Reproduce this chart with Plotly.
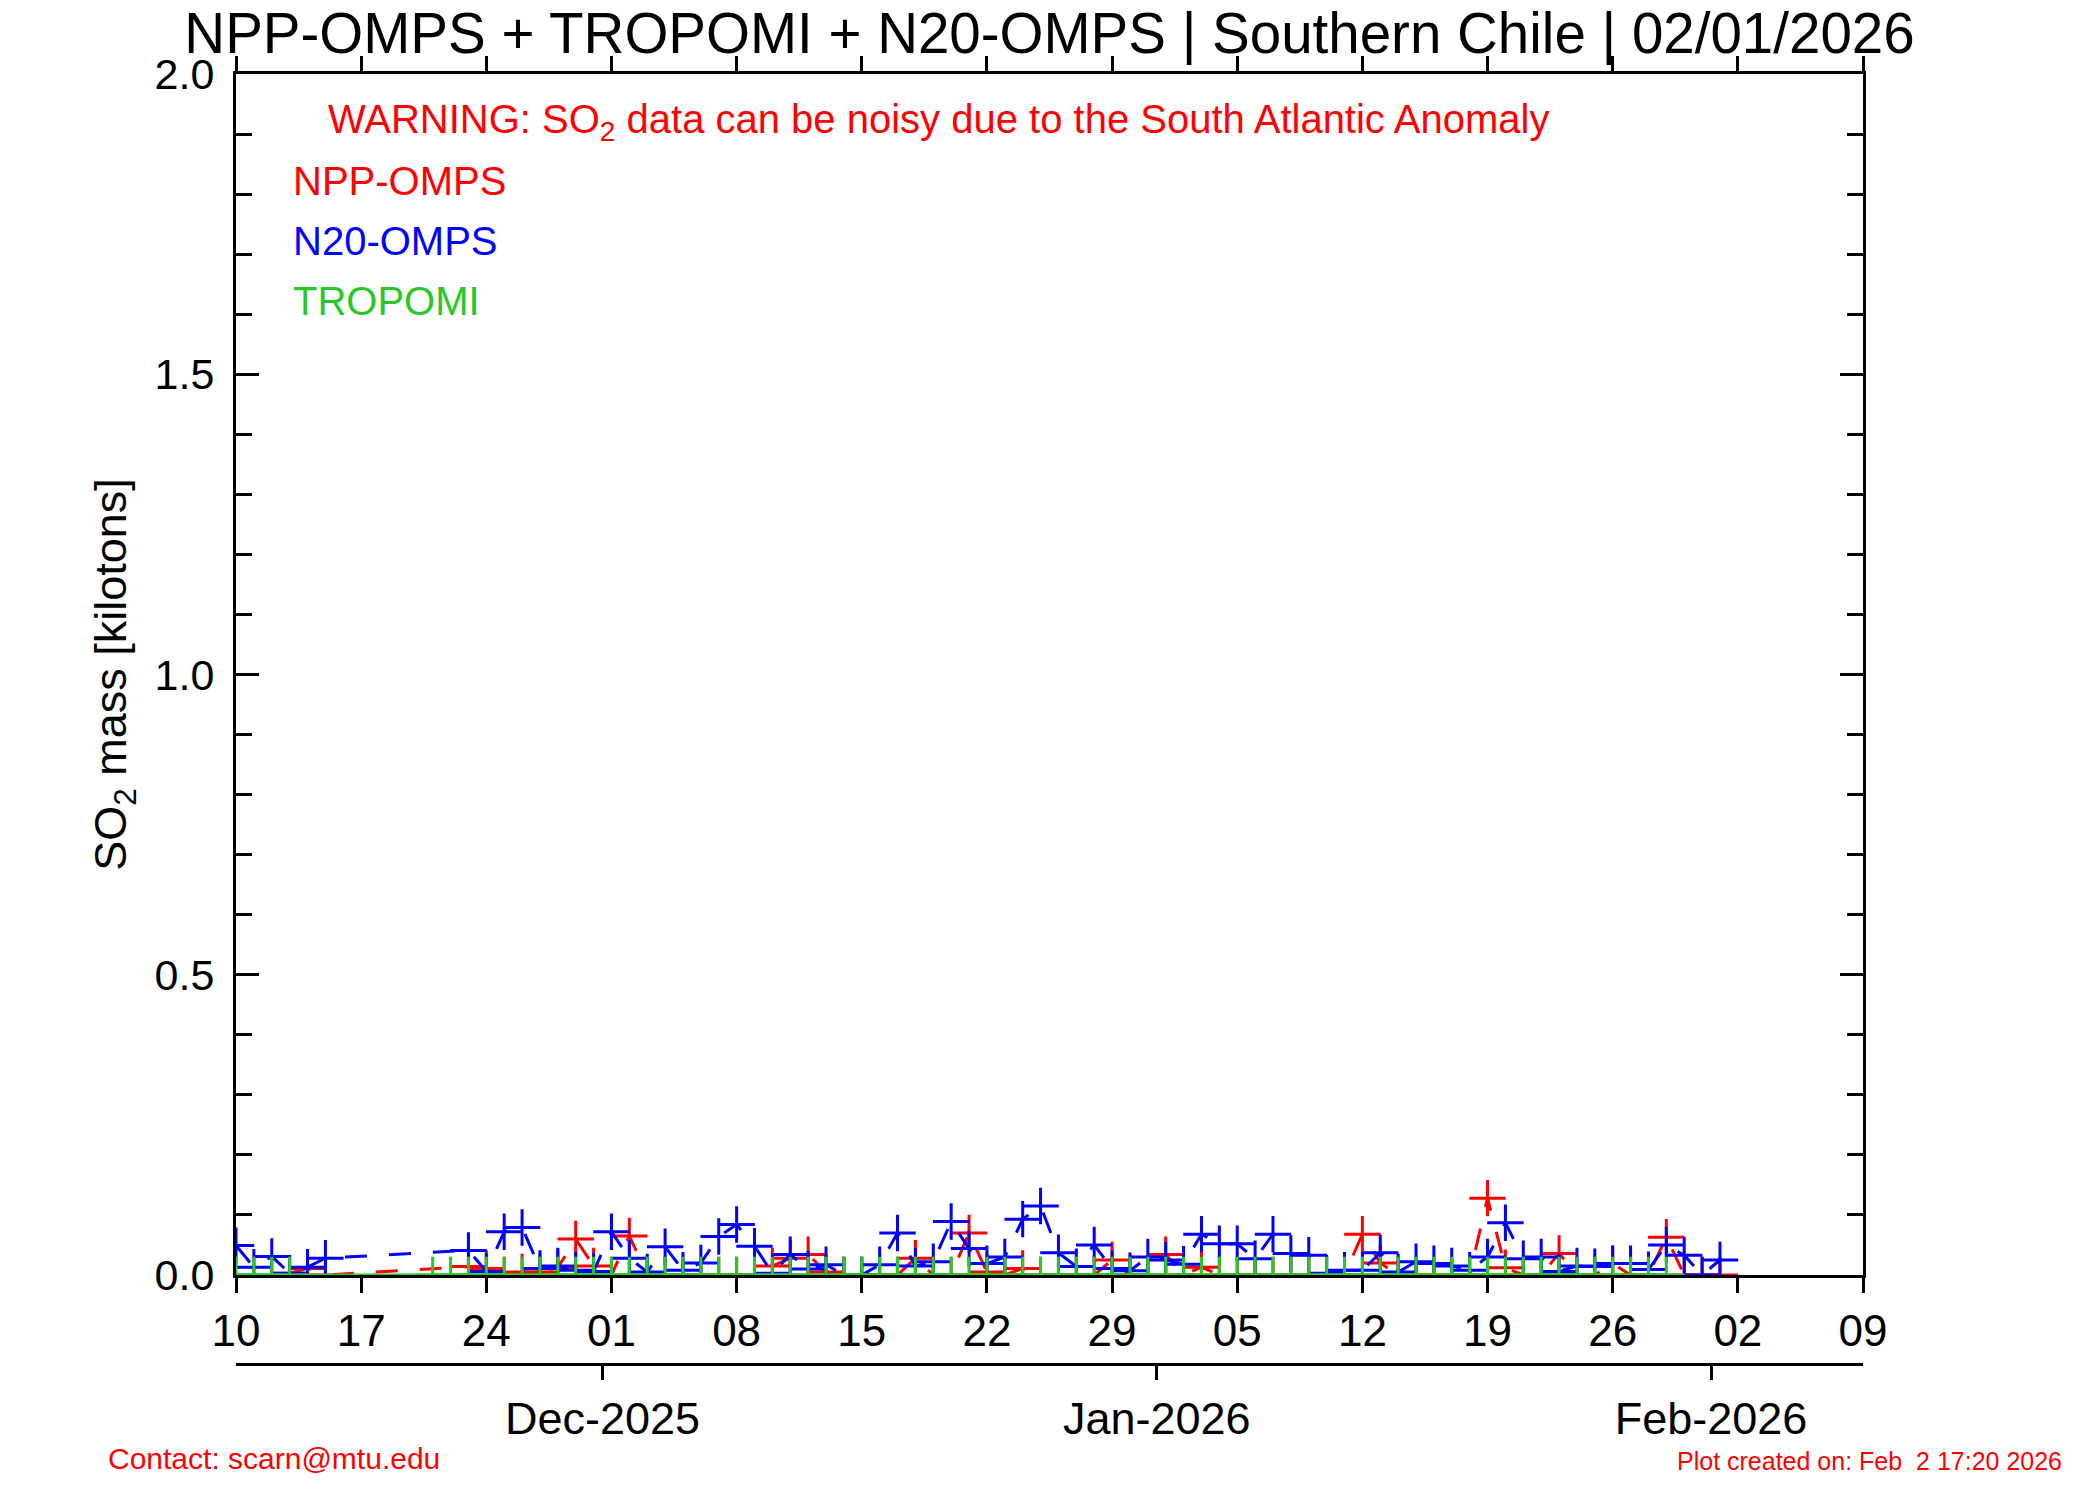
import plotly.graph_objects as go
import pandas as pd

# ---------------- data ----------------
start_date = "2025-11-10"          # day offset 0

# N20-OMPS (blue)
n20_days = [0, 1, 2, 3, 4, 5,
            13, 14, 15, 16, 17, 18, 19, 20, 21, 22, 23, 24, 25, 26, 27, 28, 29, 30,
            31, 32, 33, 34, 35, 36, 37, 38, 39, 40, 41, 42, 43, 44, 45, 46, 47, 48,
            49, 50, 51, 52, 53, 54, 55, 56, 57, 58, 59, 60, 61, 62, 63, 64, 65, 66,
            67, 68, 69, 70, 71, 72, 73, 74, 75, 76, 77, 78, 79, 80, 81, 82, 83]
n20_vals = [0.049, 0.013, 0.031, 0.003, 0.013, 0.028,
            0.041, 0.006, 0.072, 0.079, 0.011, 0.015, 0.008, 0.006, 0.072, 0.028, 0.005, 0.047,
            0.008, 0.020, 0.064, 0.084, 0.048, 0.003,
            0.034, 0.010, 0.017, 0.000, 0.000, 0.017, 0.070, 0.015, 0.022, 0.089, 0.044, 0.019,
            0.030, 0.093, 0.115, 0.037, 0.014, 0.050,
            0.011, 0.007, 0.030, 0.025, 0.018, 0.068, 0.052, 0.052, 0.027, 0.068, 0.036, 0.033,
            0.003, 0.008, 0.008, 0.037, 0.005, 0.022,
            0.019, 0.015, 0.008, 0.030, 0.087, 0.027, 0.030, 0.006, 0.015, 0.014, 0.019, 0.019,
            0.009, 0.050, 0.033, 0.000, 0.025]

# NPP-OMPS (red)
npp_days = [3, 4, 5,
            13, 14, 15, 16, 17, 18, 19, 20, 21, 22, 23, 24, 25, 26, 27, 28, 29, 30,
            31, 32, 33, 34, 35, 36, 37, 38, 39, 40, 41, 42, 43, 44, 45, 46, 47, 48,
            49, 50, 51, 52, 53, 54, 55, 56, 57, 58, 59, 60, 61, 62, 63, 64, 65, 66,
            67, 68, 69, 70, 71, 72, 73, 74, 75, 76, 77, 78, 79, 80, 81, 82, 83]
npp_vals = [0.003, 0.011, 0.000,
            0.014, 0.011, 0.000, 0.005, 0.005, 0.012, 0.060, 0.015, 0.000, 0.065, 0.000, 0.000,
            0.000, 0.000, 0.000, 0.000, 0.000, 0.015,
            0.028, 0.034, 0.005, 0.000, 0.000, 0.000, 0.000, 0.028, 0.000, 0.000, 0.070, 0.005,
            0.000, 0.011, 0.000, 0.000, 0.000, 0.000,
            0.025, 0.000, 0.000, 0.034, 0.000, 0.013, 0.000, 0.000, 0.000, 0.000, 0.000, 0.000,
            0.000, 0.000, 0.068, 0.020, 0.000, 0.000,
            0.000, 0.000, 0.000, 0.128, 0.012, 0.000, 0.000, 0.036, 0.000, 0.000, 0.019, 0.000,
            0.000, 0.063, 0.000, 0.000, 0.000]

# TROPOMI (green)
tropomi_days = [0, 1, 2, 3] + list(range(11, 81))
tropomi_vals = [0.0] * len(tropomi_days)

# month axis ticks sit about half a day before the 1st in the reference
month_ticks = ["2025-11-30 12:00", "2025-12-31 12:00", "2026-01-31 12:00"]
month_labels = ["Dec-2025", "Jan-2026", "Feb-2026"]
x_range = ["2025-11-10", "2026-02-09"]

title_text = "NPP-OMPS + TROPOMI + N20-OMPS | Southern Chile | 02/01/2026"

# ---------------- helpers ----------------
base = pd.Timestamp(start_date)


def to_dates(days):
    return [(base + pd.Timedelta(days=d)).strftime("%Y-%m-%d") for d in days]


W, H = 2100, 1500
OFF = 8                                   # page body margin of the html
# target positions in page pixels
L_pg, R_pg, T_pg = 236, 1863, 74
PLOT_BOTTOM_pg = 1275
PAPER_BOTTOM_pg = 1364                    # month axis line

L, R, T = L_pg - OFF, R_pg - OFF, T_pg - OFF
PLOT_BOTTOM = PLOT_BOTTOM_pg - OFF
PAPER_BOTTOM = PAPER_BOTTOM_pg - OFF


def px(xp):
    return (xp - OFF - L) / (R - L)


def py(yp):
    return (PAPER_BOTTOM - (yp - OFF)) / (PAPER_BOTTOM - T)


FONT = "Liberation Sans, Arial, Helvetica, sans-serif"
RED = "rgb(255,0,0)"
BLUE = "rgb(0,0,255)"
GREEN = "rgb(40,200,40)"

fig = go.Figure()


def add_series(days, vals, color, dash):
    fig.add_trace(go.Scatter(
        x=to_dates(days), y=vals, mode="lines+markers",
        line=dict(color=color, width=3, dash=dash),
        marker=dict(symbol="cross-thin", size=26, color=color,
                    line=dict(color=color, width=3)),
        showlegend=False, hoverinfo="x+y"))


add_series(npp_days, npp_vals, RED, "22px,22px")
add_series(n20_days, n20_vals, BLUE, "22px,22px")
add_series(tropomi_days, tropomi_vals, GREEN, "solid")

# empty trace so that the month axis is drawn
fig.add_trace(go.Scatter(x=x_range, y=[None, None], xaxis="x2", yaxis="y",
                         mode="lines", showlegend=False, hoverinfo="skip"))

axis_common = dict(showline=True, linecolor="black", linewidth=3,
                   tickcolor="black", tickwidth=3, showgrid=False, zeroline=False)

fig.update_layout(
    width=W, height=H,
    paper_bgcolor="white", plot_bgcolor="white",
    margin=dict(l=L, r=W - R, t=T, b=H - PAPER_BOTTOM, pad=0),
    font=dict(family=FONT, color="black"),
    title=dict(text=title_text, x=(L + R) / 2 / W, xanchor="center",
               y=1 - (33 - OFF) / H, yanchor="middle",
               font=dict(size=56.5, family=FONT, color="black")),
    xaxis=dict(**axis_common, type="date", range=x_range, mirror="ticks",
               ticks="outside", ticklen=15, tick0=start_date, dtick=7 * 86400000,
               tickformat="%d", tickfont=dict(size=44), anchor="y"),
    xaxis2=dict(**axis_common, type="date", range=x_range, overlaying="x",
                anchor="free", position=0, side="bottom", ticks="outside", ticklen=14,
                tickmode="array", tickvals=month_ticks, ticktext=month_labels,
                tickfont=dict(size=45), ticklabelstandoff=0),
    yaxis=dict(**axis_common, range=[0, 2.0],
               domain=[(PAPER_BOTTOM - PLOT_BOTTOM) / (PAPER_BOTTOM - T), 1],
               mirror="ticks", ticks="inside", ticklen=23, dtick=0.5, tick0=0,
               tickformat=".1f", tickfont=dict(size=43), ticklabelstandoff=10,
               minor=dict(dtick=0.1, ticks="inside", ticklen=16, tickwidth=3,
                          tickcolor="black"),
               title=dict(text="SO<sub>2</sub> mass [kilotons]", font=dict(size=45),
                          standoff=14)),
)

ann = []
ann.append(dict(text="WARNING: SO<sub>2</sub> data can be noisy due to the South Atlantic Anomaly",
                x=px(326), y=py(122), xanchor="left", yanchor="middle",
                font=dict(size=40, color=RED)))
for label, color, yy in [("NPP-OMPS", RED, 181), ("N20-OMPS", BLUE, 241), ("TROPOMI", GREEN, 301)]:
    ann.append(dict(text=label, x=px(291), y=py(yy), xanchor="left", yanchor="middle",
                    font=dict(size=40, color=color)))
ann.append(dict(text="Contact: scarn@mtu.edu", x=px(106), y=py(1459), xanchor="left",
                yanchor="middle", font=dict(size=30, color=RED)))
ann.append(dict(text="Plot created on: Feb&nbsp; 2 17:20 2026", x=px(2064), y=py(1461),
                xanchor="right", yanchor="middle", font=dict(size=25, color=RED)))
for a in ann:
    a.update(xref="paper", yref="paper", showarrow=False)
fig.update_layout(annotations=ann)

fig.write_html("out.html")
